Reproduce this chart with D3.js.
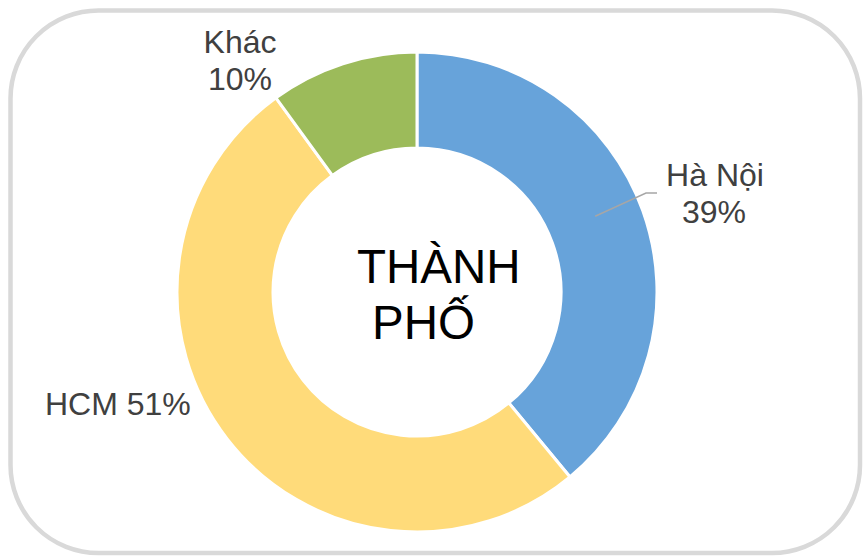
<!DOCTYPE html>
<html>
<head>
<meta charset="utf-8">
<style>
  body { margin: 0; background: #fff; }
  svg { display: block; font-family: Arial, "Liberation Sans", sans-serif; }
</style>
</head>
<body>
<svg width="864" height="556"></svg>
<script src="https://cdn.jsdelivr.net/npm/d3@7"></script>
<script>

// data
var cities = ["Hà Nội", "HCM", "Khác"];
var shares = [39, 51, 10];
var colors = ["#67a3da", "#ffdb7a", "#9cbb5a"];
var centerTitle = ["THÀNH", "PHỐ"];

var svg = d3.select("svg"),
    width = +svg.attr("width"),
    height = +svg.attr("height");

// chart frame
svg.append("rect")
    .attr("x", 10.5)
    .attr("y", 10.5)
    .attr("width", 849.5)
    .attr("height", 542.5)
    .attr("rx", 88)
    .attr("ry", 88)
    .attr("fill", "#fff")
    .attr("stroke", "#d9d9d9")
    .attr("stroke-width", 4.5);

var cx = 417, cy = 292,
    outerR = 240, innerR = 144;

var data = cities.map(function(c, i) { return {name: c, value: shares[i], color: colors[i]}; });

var pie = d3.pie()
    .sort(null)
    .value(function(d) { return d.value; });

var arc = d3.arc()
    .innerRadius(innerR)
    .outerRadius(outerR);

var g = svg.append("g")
    .attr("transform", "translate(" + cx + "," + cy + ")");

var arcs = pie(data);

g.selectAll("path")
  .data(arcs)
  .enter().append("path")
    .attr("d", arc)
    .attr("fill", function(d) { return d.data.color; })
    .attr("stroke", "#fff")
    .attr("stroke-width", 3);

// labels
var labelColor = "#404040";
var labels = svg.append("g")
    .attr("font-size", 32)
    .attr("fill", labelColor)
    .attr("text-anchor", "middle");

function pct(d) { return d.data.value + "%"; }

// Hà Nội with leader line
var hn = arcs[0];
var hnMid = (hn.startAngle + hn.endAngle) / 2;
var pIn = [Math.sin(hnMid) * 200, -Math.cos(hnMid) * 200];
var leader = d3.line()([
  [cx + pIn[0] - 10, cy + pIn[1] - 8],
  [cx + 229, cy - 99],
  [cx + 240, cy - 99]
]);
svg.append("path")
    .attr("d", leader)
    .attr("fill", "none")
    .attr("stroke", "#a6a6a6")
    .attr("stroke-width", 1.5);

labels.append("text").attr("x", 715).attr("y", 186).text(hn.data.name);
labels.append("text").attr("x", 714).attr("y", 223).text(pct(hn));

// HCM
var hcm = arcs[1];
labels.append("text")
    .attr("x", 45).attr("y", 415)
    .attr("text-anchor", "start")
    .text(hcm.data.name + " " + pct(hcm));

// Khác
var kh = arcs[2];
labels.append("text").attr("x", 240).attr("y", 53).text(kh.data.name);
labels.append("text").attr("x", 240).attr("y", 90).text(pct(kh));

// center title
var title = svg.append("g")
    .attr("font-size", 47.5)
    .attr("fill", "#000");
title.append("text").attr("x", 357).attr("y", 283).text(centerTitle[0]);
title.append("text").attr("x", 372).attr("y", 339).text(centerTitle[1]);

</script>
</body>
</html>
